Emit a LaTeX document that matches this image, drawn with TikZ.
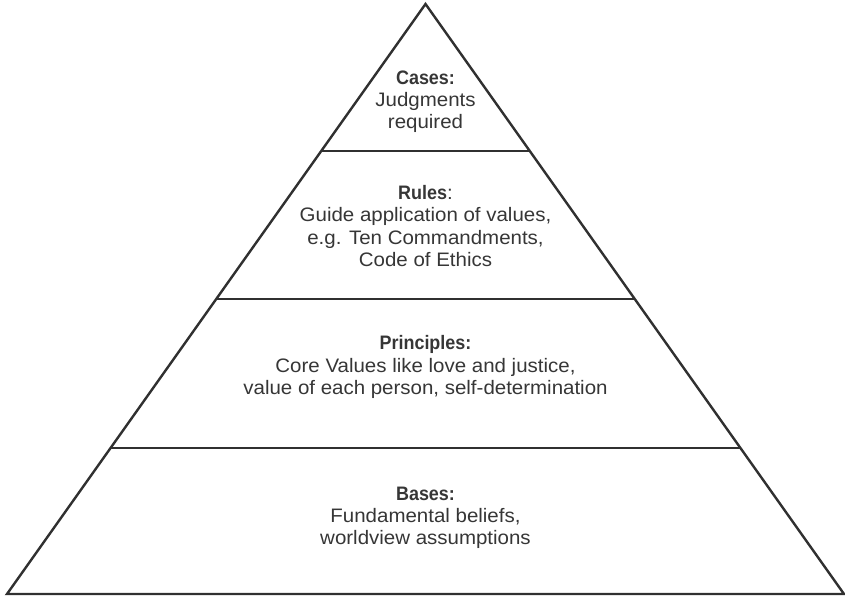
\documentclass[tikz,border=0pt]{standalone}
\usepackage{fontspec}
\setmainfont[FakeStretch=1.05]{Liberation Sans}
\newfontfamily\hdfont[FakeStretch=0.92]{Liberation Sans Bold}
\usetikzlibrary{calc}
\definecolor{ink}{HTML}{303030}
\definecolor{txt}{HTML}{363636}
\newcommand{\hd}[1]{{\hdfont #1}}
\tikzset{
  edge/.style={draw=ink, line width=2.4pt, line join=miter},
  label/.style={align=center, text=txt, font=\fontsize{19.5}{22.2}\selectfont, inner sep=0pt},
}
\begin{document}
\begin{tikzpicture}[x=1pt,y=-1pt]
\useasboundingbox (0,0) rectangle (845,597);
\coordinate (apex) at (425.5,4);
\coordinate (bl) at (7,594);
\coordinate (br) at (844,594);
\draw[edge] (apex) -- (br) -- (bl) -- cycle;
% horizontal dividers (fractions of the height from the apex)
\coordinate (la) at ($(apex)!0.24915!(bl)$);
\coordinate (ra) at ($(apex)!0.24915!(br)$);
\coordinate (lb) at ($(apex)!0.49999!(bl)$);
\coordinate (rb) at ($(apex)!0.49999!(br)$);
\coordinate (lc) at ($(apex)!0.75254!(bl)$);
\coordinate (rc) at ($(apex)!0.75254!(br)$);
\draw[edge] (la) -- (ra);
\draw[edge] (lb) -- (rb);
\draw[edge] (lc) -- (rc);
\node[label] (cases) at (425.5,102) {\hd{Cases:}\\Judgments\\required};
\node[label] (rules) at (425.5,226) {\hd{Rules}:\\Guide application of values,\\e.g. Ten Commandments,\\Code of Ethics};
\node[label] (principles) at (425.5,367) {\hd{Principles:}\\Core Values like love and justice,\\value of each person, self-determination};
\node[label] (bases) at (425.5,518) {\hd{Bases:}\\Fundamental beliefs,\\worldview assumptions};
\end{tikzpicture}
\end{document}
